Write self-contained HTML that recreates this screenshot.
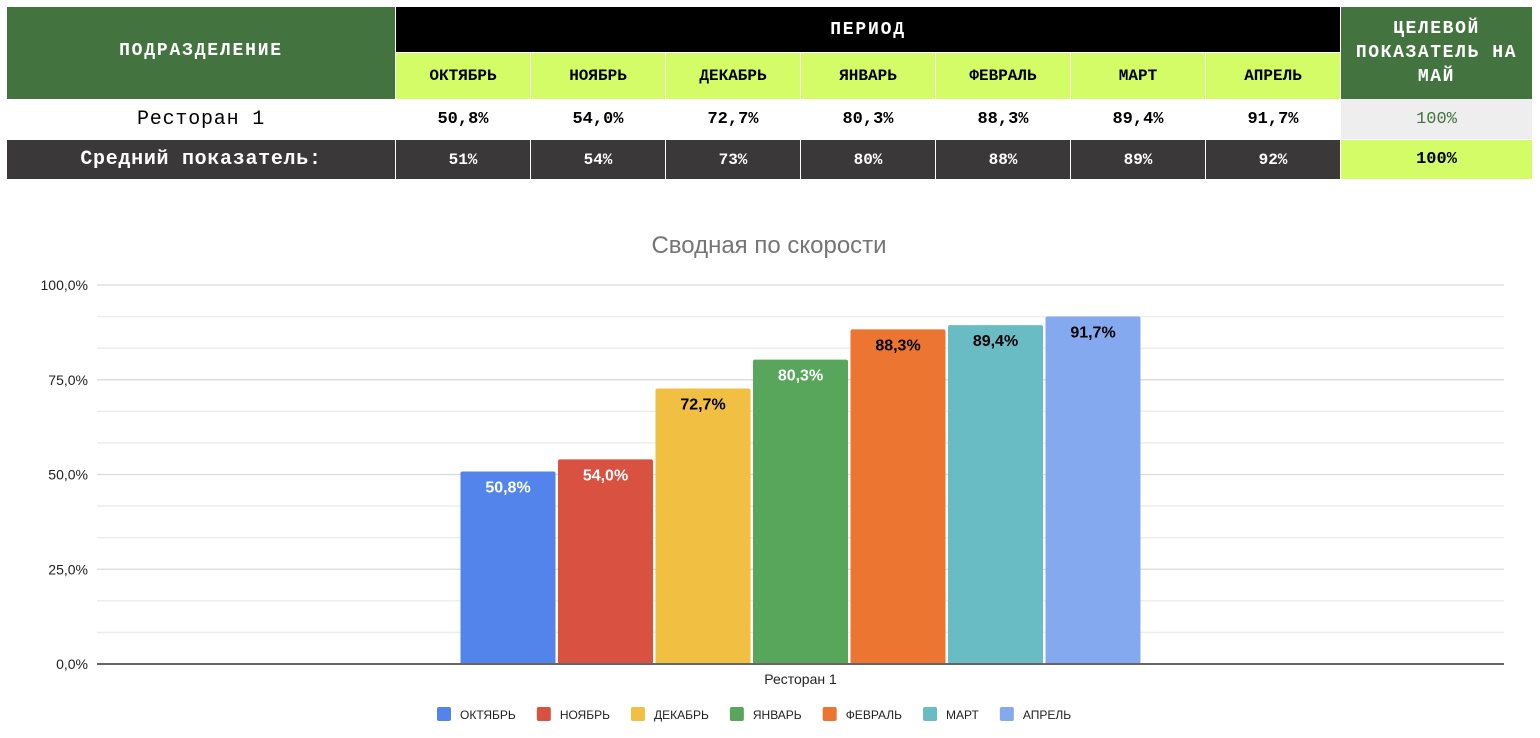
<!DOCTYPE html>
<html><head><meta charset="utf-8">
<style>
body{margin:0;width:1540px;height:738px;background:#fff;overflow:hidden;position:relative;font-family:"Liberation Mono",monospace}
.c{position:absolute;display:flex;align-items:center;justify-content:center;text-align:center;box-sizing:border-box;font-weight:bold}
svg text{font-family:"Liberation Sans",sans-serif}
</style></head><body>
<div>
<div class="c" style="left:7px;top:7px;width:388px;height:92px;background:#437440;color:#fff;font-size:18px;letter-spacing:1.8px;padding-bottom:4px">ПОДРАЗДЕЛЕНИЕ</div>
<div class="c" style="left:396px;top:7px;width:944px;height:45px;background:#000;color:#fff;font-size:18px;letter-spacing:1.8px">ПЕРИОД</div>
<div class="c" style="left:1341px;top:7px;width:191px;height:92px;background:#437440;color:#fff;font-size:18px;letter-spacing:1.6px;line-height:24px">ЦЕЛЕВОЙ<br>ПОКАЗАТЕЛЬ НА<br>МАЙ</div>
<div id="months"></div>
<div class="c" style="left:7px;top:99px;width:388px;height:40px;color:#000;font-weight:normal;font-size:20px;letter-spacing:0.8px">Ресторан 1</div>
<div class="c" style="left:1341px;top:99px;width:191px;height:40px;background:#eeeeee;color:#437440;font-weight:normal;font-size:17px">100%</div>
<div class="c" style="left:7px;top:140px;width:388px;height:39px;background:#3a3839;color:#fff;font-size:20px;letter-spacing:0.7px">Средний показатель:</div>
<div class="c" style="left:1341px;top:140px;width:191px;height:39px;background:#d4fc66;color:#000;font-size:17px">100%</div>
</div>
<svg id="chart" width="1540" height="738" style="position:absolute;left:0;top:0;pointer-events:none"></svg>
<script>
const months=["ОКТЯБРЬ","НОЯБРЬ","ДЕКАБРЬ","ЯНВАРЬ","ФЕВРАЛЬ","МАРТ","АПРЕЛЬ"];
const values=[50.8,54.0,72.7,80.3,88.3,89.4,91.7];
const rowLabels=["50,8%","54,0%","72,7%","80,3%","88,3%","89,4%","91,7%"];
const avgLabels=["51%","54%","73%","80%","88%","89%","92%"];
const colors=["#5384ec","#d95140","#f1bf42","#58a65c","#eb7531","#6abcc4","#85a9ef"];
const labelColors=["#fff","#fff","#000","#fff","#000","#000","#000"];
const yTicks=[0,25,50,75,100];
const yTickLabels=["0,0%","25,0%","50,0%","75,0%","100,0%"];
const category="Ресторан 1";

const mc=document.getElementById('months');
months.forEach((m,i)=>{
  const x=396+i*135;
  const h=document.createElement('div');
  h.className='c';
  
  
  h.style.cssText=`left:${x}px;top:53px;width:134px;height:46px;background:#d4fc66;color:#000;font-size:16px`;
  h.textContent=m;mc.appendChild(h);
  const v=document.createElement('div');
  v.className='c';
  
  
  v.style.cssText=`left:${x}px;top:99px;width:134px;height:40px;color:#000;font-size:17px`;
  v.textContent=rowLabels[i];mc.appendChild(v);
  const a=document.createElement('div');
  a.className='c';
  
  
  a.style.cssText=`left:${x}px;top:140px;width:134px;height:39px;background:#3a3839;color:#fff;font-size:16px`;
  a.textContent=avgLabels[i];mc.appendChild(a);
});

const svg=document.getElementById('chart');const NS='http://www.w3.org/2000/svg';
function el(t,a,txt){const e=document.createElementNS(NS,t);for(const k in a)e.setAttribute(k,a[k]);if(txt!==undefined)e.textContent=txt;svg.appendChild(e);return e;}
const x0=97,x1=1504,yBase=664,yTop=285;
const y=v=>yBase-(v/100)*(yBase-yTop);
let t=el('text',{x:769,y:253,'text-anchor':'middle','font-size':24,fill:'#757575'},'Сводная по скорости');


for(let k=1;k<=12;k++){
  const v=k*100/12;
  const g=el('line',{x1:x0,x2:x1,y1:y(v),y2:y(v),stroke:k%3==0?'#d9d9d9':'#ececec','stroke-width':1.3});
  
  
}
yTicks.forEach((v,i)=>{
  const l=el('text',{x:88,y:y(v)+5,'text-anchor':'end','font-size':14,fill:'#222'},yTickLabels[i]);
  
  
});
const bw=95,pitch=97.5,n=values.length;
const gx=(x0+x1)/2-(n*pitch-2.5)/2;
values.forEach((v,i)=>{
  const bx=gx+i*pitch;
  const r=el('rect',{x:bx,y:y(v),width:bw,height:yBase-y(v),fill:colors[i],rx:2});
  
  
  const l=el('text',{x:bx+bw/2,y:y(v)+21,'text-anchor':'middle','font-size':16,'font-weight':'bold',fill:labelColors[i]},rowLabels[i]);
  
  
});
const ax=el('line',{x1:x0,x2:x1,y1:yBase,y2:yBase,stroke:'#666','stroke-width':2});


const cl=el('text',{x:(x0+x1)/2,y:684,'text-anchor':'middle','font-size':14,fill:'#222'},category);


let lx=437;
const lgap=[130,127,128,123,132,109];
months.forEach((m,i)=>{
  const s=el('rect',{x:lx,y:707,width:14,height:14,rx:2,fill:colors[i]});
  
  
  const tx=el('text',{x:lx+23,y:719,'font-size':12,fill:'#222'},m);
  
  
  const w=tx.getComputedTextLength?tx.getComputedTextLength():60;
  lx+=23+w+21;
});
</script>
</body></html>
